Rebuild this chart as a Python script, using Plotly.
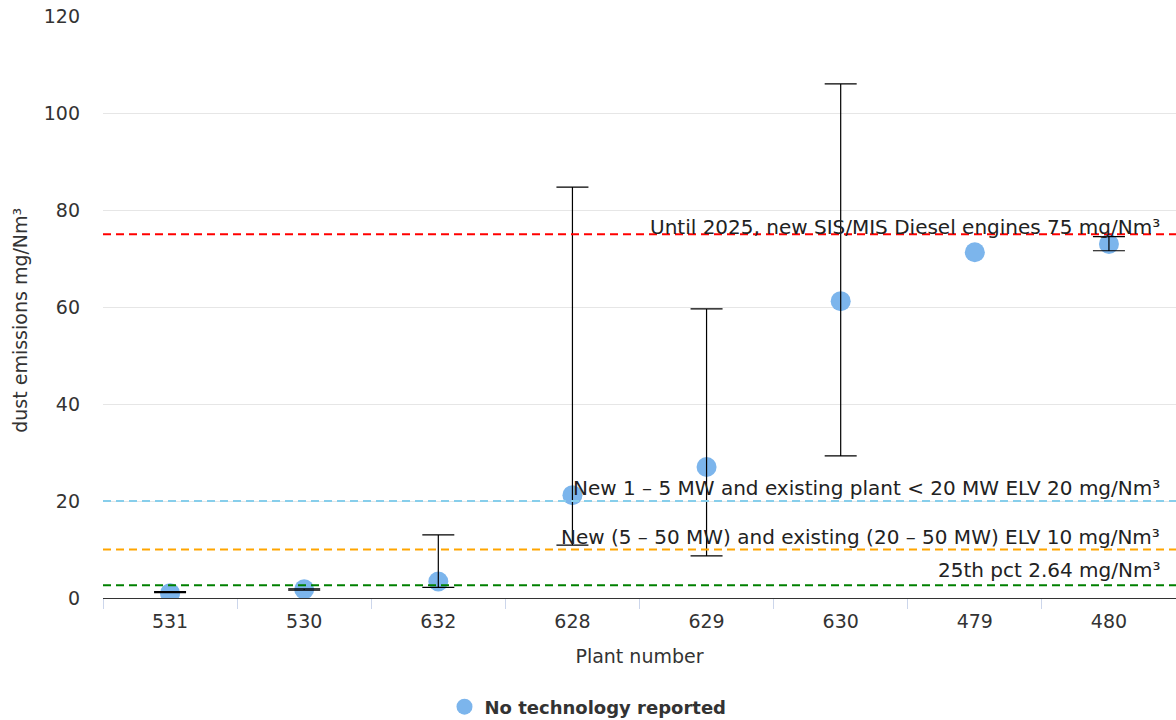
import plotly.graph_objects as go

plants = ["531", "530", "632", "628", "629", "630", "479", "480"]
dust = [1.0, 1.8, 3.4, 21.2, 27.0, 61.2, 71.3, 73.0]
err_high = [1.3, 1.9, 13.0, 84.7, 59.6, 106.0, None, 74.5]
err_low = [1.1, 1.6, 2.2, 10.9, 8.7, 29.3, None, 71.6]

limit_values = [75, 20, 10, 2.64]
limit_labels = [
    "Until 2025, new SIS/MIS Diesel engines 75 mg/Nm³",
    "New 1 – 5 MW and existing plant < 20 MW ELV 20 mg/Nm³",
    "New (5 – 50 MW) and existing (20 – 50 MW) ELV 10 mg/Nm³",
    "25th pct 2.64 mg/Nm³",
]
limit_colors = ["#ff0000", "#87ceeb", "#ffa500", "#008000"]
label_shift = [-7, -1, -1, 1]

FONT = "DejaVu Sans"

fig = go.Figure()

fig.add_trace(go.Scatter(
    x=plants, y=dust, mode="markers",
    name="No technology reported",
    marker=dict(color="#7cb5ec", size=20),
))

ex, ey, eplus, eminus = [], [], [], []
for p, v, h, l in zip(plants, dust, err_high, err_low):
    if h is not None:
        ex.append(p); ey.append(v); eplus.append(h - v); eminus.append(v - l)

fig.add_trace(go.Scatter(
    x=ex, y=ey, mode="markers", showlegend=False, hoverinfo="skip",
    marker=dict(color="rgba(0,0,0,0)", size=1),
    error_y=dict(type="data", symmetric=False, array=eplus, arrayminus=eminus,
                 color="#000000", thickness=1.2, width=16),
))

for val, lab, col, sh in zip(limit_values, limit_labels, limit_colors, label_shift):
    fig.add_shape(type="line", xref="paper", x0=0, x1=1, yref="y", y0=val, y1=val,
                  line=dict(color=col, width=2, dash="8px,5px"), layer="above")
    fig.add_annotation(xref="paper", x=0.987, y=val, yref="y", text=lab,
                       showarrow=False, xanchor="right", yanchor="bottom",
                       yshift=sh, font=dict(family=FONT, size=20, color="#222222"))

# y-axis title placed as rotated text
fig.add_annotation(xref="paper", yref="paper", x=-0.0774, y=0.478,
                   text="dust emissions mg/Nm³", textangle=-90, showarrow=False,
                   xanchor="center", yanchor="middle",
                   font=dict(family=FONT, size=19, color="#333333"))

fig.update_layout(
    width=1176, height=720,
    margin=dict(l=103, r=0, t=16, b=122),
    plot_bgcolor="white", paper_bgcolor="white",
    font=dict(family=FONT, size=19, color="#333333"),
    showlegend=True,
    legend=dict(orientation="h", x=0.452, xanchor="center",
                yref="container", y=13 / 720, yanchor="middle",
                font=dict(family=FONT, size=18, color="#333333", weight="bold"),
                itemsizing="trace"),
    xaxis=dict(type="category", range=[-0.5, 7.5], showgrid=False, automargin=False,
               showline=True, linecolor="#333333", linewidth=1,
               ticks="outside", tickson="boundaries", ticklen=10, tickcolor="#ccd6eb",
               ticklabelstandoff=6,
               tickfont=dict(family=FONT, size=19, color="#333333"),
               title=dict(text="Plant number", font=dict(family=FONT, size=19, color="#333333"), standoff=18)),
    yaxis=dict(range=[0, 120], tickvals=[0, 20, 40, 60, 80, 100, 120],
               showgrid=True, gridcolor="#e6e6e6", gridwidth=1, zeroline=False,
               showline=False, ticks="", ticklabelstandoff=22, automargin=False,
               tickfont=dict(family=FONT, size=19, color="#333333")),
)

fig.write_html("out.html")
